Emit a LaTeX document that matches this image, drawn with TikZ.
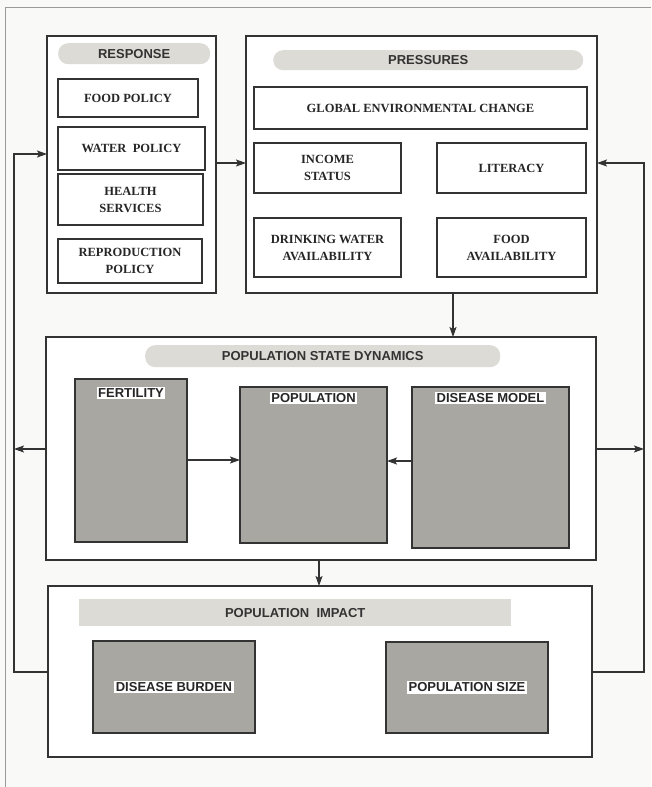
\documentclass[tikz,border=0pt]{standalone}
\usepackage{fontspec}
\setmainfont{Liberation Serif}
\newfontfamily\hsans{Liberation Sans}
\usetikzlibrary{arrows.meta,calc}
\definecolor{ink}{HTML}{333333}
\definecolor{paper}{HTML}{F9F9F7}
\definecolor{pill}{HTML}{DDDBD6}
\definecolor{slab}{HTML}{A9A7A2}
\definecolor{rim}{HTML}{9A9A9A}
\tikzset{
  frame/.style={draw=ink, line width=1.3pt, fill=white, inner sep=0pt, outer sep=0pt, anchor=north west},
  item/.style={draw=ink, line width=1.2pt, fill=white, inner sep=0pt, outer sep=0pt, anchor=north west,
    align=center, font=\fontsize{12.5}{17}\selectfont\bfseries, text=black!85},
  slabbox/.style={draw=ink, line width=1.3pt, fill=slab, inner sep=0pt, outer sep=0pt, anchor=north west},
  header/.style={fill=pill, draw=none, inner sep=0pt, anchor=north west, rounded corners=10pt,
    font=\hsans\fontsize{13}{15}\selectfont\bfseries, text=black!80},
  flathead/.style={header, rounded corners=0pt},
  tag/.style={fill=white, inner sep=1.5pt, font=\hsans\fontsize{13}{15}\selectfont\bfseries, text=black!85},
  arr/.style={draw=ink, line width=1.1pt, -{Stealth[length=10pt,width=7pt,inset=2pt]}},
  wire/.style={draw=ink, line width=1.1pt},
}
\begin{document}
\begin{tikzpicture}[x=1pt, y=-1pt]
  % page
  \fill[paper] (0,0) rectangle (651,787);
  \useasboundingbox (0,0) rectangle (651,787);
  \draw[rim, line width=1pt] (5,787) -- (5,7) -- (651,7);

  % response column
  \node[frame, minimum width=169pt, minimum height=257pt] (response) at (47,36) {};
  \node[header, minimum width=152pt, minimum height=21pt] (resphead) at (58,43) {RESPONSE};
  \node[item, minimum width=140pt, minimum height=38pt] (food) at (58,79) {FOOD POLICY};
  \node[item, minimum width=147pt, minimum height=43pt] (water) at (58,127) {WATER\ \ POLICY};
  \node[item, minimum width=145pt, minimum height=51pt] (health) at (58,174) {HEALTH\\SERVICES};
  \node[item, minimum width=144pt, minimum height=44pt] (repro) at (58,239) {REPRODUCTION\\POLICY};

  % pressures block
  \node[frame, minimum width=351pt, minimum height=257pt] (pressures) at (246,36) {};
  \node[header, minimum width=310pt, minimum height=20pt] (preshead) at (273,50) {PRESSURES};
  \node[item, minimum width=333pt, minimum height=42pt] (global) at (254,87) {GLOBAL ENVIRONMENTAL CHANGE};
  \node[item, minimum width=147pt, minimum height=50pt] (income) at (254,143) {INCOME\\STATUS};
  \node[item, minimum width=149pt, minimum height=50pt] (literacy) at (437,143) {LITERACY};
  \node[item, minimum width=147pt, minimum height=59pt] (drinking) at (254,218) {DRINKING WATER\\AVAILABILITY};
  \node[item, minimum width=149pt, minimum height=59pt] (foodav) at (437,218) {FOOD\\AVAILABILITY};

  % population state dynamics
  \node[frame, minimum width=550pt, minimum height=223pt] (state) at (46,337) {};
  \node[header, minimum width=355pt, minimum height=22pt] (statehead) at (145,345) {POPULATION STATE DYNAMICS};
  \node[slabbox, minimum width=112pt, minimum height=163pt] (fertility) at (75,379) {};
  \node[slabbox, minimum width=147pt, minimum height=156pt] (population) at (240,387) {};
  \node[slabbox, minimum width=157pt, minimum height=161pt] (disease) at (412,387) {};
  \node[tag] (fertT) at ($(fertility.north)+(0,14)$) {FERTILITY};
  \node[tag] (popT) at ($(population.north)+(0,11)$) {POPULATION};
  \node[tag] (disT) at ($(disease.north)+(0,11)$) {DISEASE MODEL};

  % population impact
  \node[frame, minimum width=544pt, minimum height=171pt] (impact) at (48,586) {};
  \node[flathead, minimum width=432pt, minimum height=27pt] (imphead) at (79,599) {POPULATION\ \ IMPACT};
  \node[slabbox, minimum width=162pt, minimum height=92pt] (burden) at (93,641) {};
  \node[slabbox, minimum width=162pt, minimum height=91pt] (popsize) at (386,642) {};
  \node[tag] (burT) at (burden.center) {DISEASE BURDEN};
  \node[tag] (sizT) at (popsize.center) {POPULATION SIZE};

  % routing points
  \coordinate (yA) at (0,154);
  \coordinate (yB) at (0,163);
  \coordinate (yC) at (0,449);
  \coordinate (yD) at (0,672);
  \coordinate (yE) at (0,460);
  \coordinate (xA) at (453,0);
  \coordinate (xB) at (319,0);
  \coordinate (lbus) at (14,449);
  \coordinate (rbus) at (644,449);
  \coordinate (lcorner) at (14,672);
  \coordinate (rcorner) at (644,672);

  % forward flow
  \draw[arr] (response.east |- yB) -- (pressures.west |- yB);
  \draw[arr] (pressures.south -| xA) -- (state.north -| xA);
  \draw[arr] (state.south -| xB) -- (impact.north -| xB);
  \draw[arr] (fertility.east |- yE) -- (population.west |- yE);
  \draw[arr] ($(disease.west |- yE)+(0,1)$) -- ($(population.east |- yE)+(0,1)$);

  % feedback loops
  \draw[arr] (state.west |- yC) -- (lbus);
  \draw[arr] (state.east |- yC) -- (rbus);
  \draw[arr] (impact.west |- yD) -- (lcorner) -- (lcorner |- yA) -- (response.west |- yA);
  \draw[arr] (impact.east |- yD) -- (rcorner) -- (rcorner |- yB) -- (pressures.east |- yB);
\end{tikzpicture}
\end{document}
